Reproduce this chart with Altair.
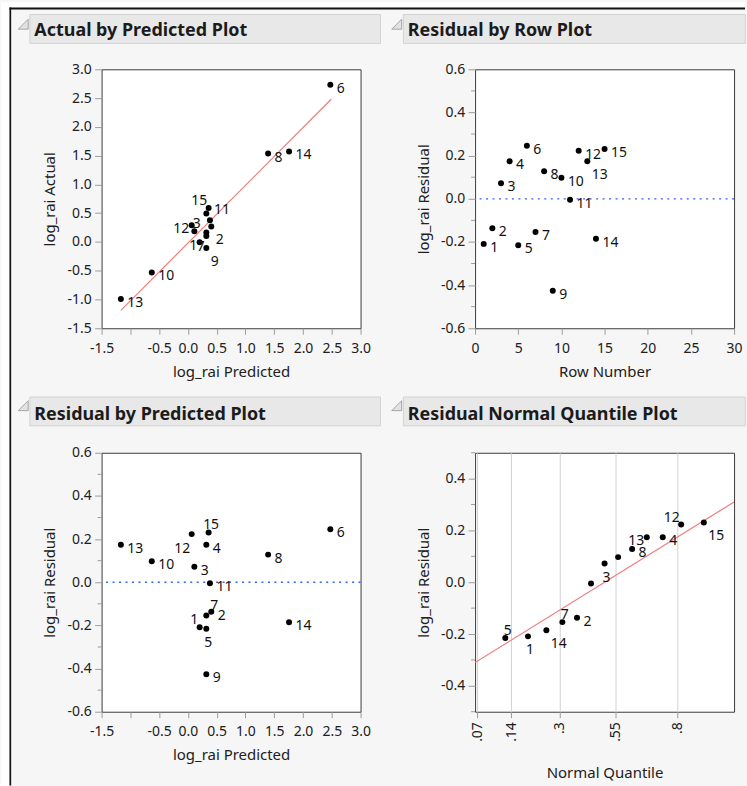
import altair as alt
import pandas as pd

# ---------------- data ----------------
ROW = list(range(1, 16))
PREDICTED = [0.204, 0.406, 0.112, 0.320, 0.320, 2.475, 0.320, 1.394, 0.320, -0.628, 0.383, 0.066, -1.165, 1.758, 0.360]
ACTUAL = [-0.005, 0.269, 0.184, 0.494, 0.105, 2.730, 0.166, 1.535, -0.106, -0.531, 0.378, 0.289, -0.991, 1.573, 0.591]
RESIDUAL = [-0.209, -0.137, 0.072, 0.174, -0.215, 0.246, -0.154, 0.128, -0.426, 0.097, -0.005, 0.223, 0.174, -0.185, 0.231]

QUANTILE_ORDER = [9, 5, 1, 14, 7, 2, 11, 3, 10, 8, 13, 4, 12, 15, 6]
NORMAL_QUANTILE = [-1.534, -1.150, -0.887, -0.674, -0.489, -0.319, -0.157, 0.0,
                   0.157, 0.319, 0.489, 0.674, 0.887, 1.150, 1.534]

FIT_X = [-1.165, 2.49]
FIT_Y = [-1.19, 2.48]
QLINE_X = [-1.5, 1.5]
QLINE_Y = [-0.31, 0.31]

PRED_TICKS = [-1.5, -1.0, -0.5, 0.0, 0.5, 1.0, 1.5, 2.0, 2.5, 3.0]
ACTUAL_TICKS = [-1.5, -1.0, -0.5, 0.0, 0.5, 1.0, 1.5, 2.0, 2.5, 3.0]
ROW_TICKS = [0, 5, 10, 15, 20, 25, 30]
RES_TICKS = [-0.6, -0.4, -0.2, 0.0, 0.2, 0.4, 0.6]
RES_MINOR = [-0.5, -0.3, -0.1, 0.1, 0.3, 0.5]
QRES_TICKS = [-0.4, -0.2, 0.0, 0.2, 0.4]
QRES_MINOR = [-0.5, -0.3, -0.1, 0.1, 0.3, 0.5]
Q_TICK_Z = [-1.476, -1.080, -0.524, 0.126, 0.842]
Q_TICK_LABELS = [".07", ".14", ".3", ".55", ".8"]

TITLES = ["Actual by Predicted Plot", "Residual by Row Plot",
          "Residual by Predicted Plot", "Residual Normal Quantile Plot"]

# label placement codes (styling, per panel)
POS_ACTUAL = {1: "L", 2: "RB", 3: "A", 4: "N", 5: "N", 6: "R", 7: "BL", 8: "R", 9: "RB",
              10: "R", 11: "RA", 12: "L", 13: "R", 14: "R", 15: "AL"}
POS_ROW = {i: "R" for i in ROW}
POS_ROW[13] = "RB"
POS_RESPRED = {1: "AL", 2: "R", 3: "R", 4: "R", 5: "B", 6: "R", 7: "RA", 8: "R", 9: "R",
               10: "R", 11: "R", 12: "BL", 13: "R", 14: "R", 15: "A"}
POS_QUANT = {1: "B", 2: "R", 3: "B", 4: "R", 5: "A", 6: "N", 7: "A", 8: "R", 9: "N",
             10: "N", 11: "N", 12: "AL", 13: "L", 14: "RB", 15: "RB"}

PLACE = {
    "R": ("left", 6.5, 3),
    "RB": ("left", 4.5, 13),
    "RA": ("left", 4, -11),
    "L": ("right", -2.5, 3),
    "AL": ("right", -1.5, -8),
    "BL": ("right", -1.5, 14),
    "A": ("center", 2.5, -8),
    "B": ("center", 2, 13),
}

FONT = "Noto Sans"
W = 260
H = 260
DUMMY = pd.DataFrame({"d": [0]})

NUMFMT = "(datum.value < -0.0001 ? '-' : '') + format(abs(datum.value), '.1f')"


def axis_common(**kw):
    base = dict(domain=False, grid=False, ticks=True, tickColor="#9b9b9b", tickWidth=1,
                labelColor="#202020", labelFont=FONT, labelFontSize=14, labelFlush=False,
                labelOverlap=False, labelBound=False,
                titleFont=FONT, titleFontSize=15, titleFontWeight="normal", titleColor="#202020")
    base.update(kw)
    return alt.Axis(**base)


def xaxis(title, values, expr, title_y=43, **kw):
    opts = dict(title=title, values=values, labelExpr=expr, tickSize=6, labelPadding=7,
                titleX=W / 2, titleY=title_y, titleAlign="center", titleBaseline="middle")
    opts.update(kw)
    return axis_common(**opts)


def yaxis(title, values, expr):
    return axis_common(title=title, values=values, labelExpr=expr, tickSize=7, labelPadding=3.5,
                       titleX=-52, titleY=H / 2, titleAngle=270, titleAlign="center",
                       titleBaseline="middle")


def header(title, bar_x2, bar_y, text_y, tri_y):
    bar = alt.Chart(DUMMY).mark_rect(fill="#e8e8e8", stroke="#d3d3d3", strokeWidth=1).encode(
        x=alt.value(-72), x2=alt.value(bar_x2), y=alt.value(bar_y), y2=alt.value(bar_y + 29))
    tri = alt.Chart(DUMMY).mark_point(shape="M 1 -1 L 1 1 L -1 1 Z", size=100, filled=True,
                                      fill="#e2e2e2", stroke="#a5a5a5", strokeWidth=1,
                                      opacity=1).encode(x=alt.value(-78.7), y=alt.value(tri_y))
    txt = alt.Chart(DUMMY).mark_text(align="left", baseline="alphabetic", font=FONT,
                                     fontSize=18, fontWeight="bold", color="#1b1b1b").encode(
        x=alt.value(-67.5), y=alt.value(text_y), text=alt.value(title))
    return [bar, tri, txt]


def label_layers(df, X, Y, clip=False):
    layers = []
    for code, (al, dx, dy) in PLACE.items():
        sub = df[df["pos"] == code]
        if len(sub) == 0:
            continue
        layers.append(alt.Chart(sub).mark_text(align=al, baseline="alphabetic", dx=dx, dy=dy + 5,
                                               font=FONT, fontSize=14, color="#111111",
                                               clip=clip).encode(x=X, y=Y, text="lab:N"))
    return layers


def minor_ticks(values, Y):
    d = pd.DataFrame({"yv": values})
    return alt.Chart(d).mark_rule(color="#9b9b9b", strokeWidth=1).encode(
        y=Y, x=alt.value(-4), x2=alt.value(0))


def zero_line(Y):
    d = pd.DataFrame({"yv": [0.0]})
    return alt.Chart(d).mark_rule(color="#2f64f5", strokeWidth=1.3, strokeDash=[2, 4.5]).encode(y=Y)


def points(df, X, Y, clip=False):
    return alt.Chart(df).mark_circle(size=36, color="black", opacity=1, clip=clip).encode(x=X, y=Y)


# ---------------- panel 1: actual by predicted ----------------
X1 = alt.X("xv:Q", scale=alt.Scale(domain=[-1.5, 3.0], nice=False, zero=False),
           axis=xaxis("log_rai Predicted", PRED_TICKS, "abs(datum.value + 1) < 0.001 ? '' : " + NUMFMT))
Y1 = alt.Y("yv:Q", scale=alt.Scale(domain=[-1.5, 3.0], nice=False, zero=False),
           axis=yaxis("log_rai Actual", ACTUAL_TICKS, NUMFMT))
df1 = pd.DataFrame({"xv": PREDICTED, "yv": ACTUAL, "lab": [str(r) for r in ROW],
                    "pos": [POS_ACTUAL[r] for r in ROW]})
fit = pd.DataFrame({"xv": FIT_X, "yv": FIT_Y})

frame_layers = [
    alt.Chart(DUMMY).mark_rect(fill="white").encode(
        x=alt.value(-101), x2=alt.value(646), y=alt.value(-67), y2=alt.value(-62)),
    alt.Chart(DUMMY).mark_rect(fill="white").encode(
        x=alt.value(-101), x2=alt.value(-92.5), y=alt.value(-67), y2=alt.value(719)),
    alt.Chart(DUMMY).mark_rect(fill="#111111").encode(
        x=alt.value(-92.5), x2=alt.value(646), y=alt.value(-62), y2=alt.value(-60)),
    alt.Chart(DUMMY).mark_rect(fill="#111111").encode(
        x=alt.value(-92.5), x2=alt.value(-90.8), y=alt.value(-62), y2=alt.value(719)),
]

p1 = alt.layer(
    *frame_layers,
    *header(TITLES[0], 280, -55, -33, -45.3),
    alt.Chart(fit).mark_line(color="#f07a7a", strokeWidth=1.2).encode(x=X1, y=Y1),
    points(df1, X1, Y1),
    *label_layers(df1, X1, Y1),
).properties(width=W, height=H)

# ---------------- panel 2: residual by row ----------------
X2 = alt.X("xv:Q", scale=alt.Scale(domain=[0, 30], nice=False, zero=False),
           axis=xaxis("Row Number", ROW_TICKS, "format(datum.value, 'd')"))
Y2 = alt.Y("yv:Q", scale=alt.Scale(domain=[-0.6, 0.6], nice=False, zero=False),
           axis=yaxis("log_rai Residual", RES_TICKS, NUMFMT))
df2 = pd.DataFrame({"xv": ROW, "yv": RESIDUAL, "lab": [str(r) for r in ROW],
                    "pos": [POS_ROW[r] for r in ROW]})
p2 = alt.layer(
    *header(TITLES[1], 271.3, -55, -33, -45.3),
    minor_ticks(RES_MINOR, Y2),
    zero_line(Y2),
    points(df2, X2, Y2),
    *label_layers(df2, X2, Y2),
).properties(width=W, height=H)

# ---------------- panel 3: residual by predicted ----------------
X3 = alt.X("xv:Q", scale=alt.Scale(domain=[-1.5, 3.0], nice=False, zero=False),
           axis=xaxis("log_rai Predicted", PRED_TICKS, "abs(datum.value + 1) < 0.001 ? '' : " + NUMFMT))
Y3 = alt.Y("yv:Q", scale=alt.Scale(domain=[-0.6, 0.6], nice=False, zero=False),
           axis=yaxis("log_rai Residual", RES_TICKS, NUMFMT))
df3 = pd.DataFrame({"xv": PREDICTED, "yv": RESIDUAL, "lab": [str(r) for r in ROW],
                    "pos": [POS_RESPRED[r] for r in ROW]})
p3 = alt.layer(
    *header(TITLES[2], 280, -56, -32.7, -47.3),
    minor_ticks(RES_MINOR, Y3),
    zero_line(Y3),
    points(df3, X3, Y3),
    *label_layers(df3, X3, Y3),
).properties(width=W, height=H)

# ---------------- panel 4: residual normal quantile ----------------
qexpr = "".join("abs(datum.value - (%g)) < 0.001 ? '%s' : " % (z, l)
                for z, l in zip(Q_TICK_Z, Q_TICK_LABELS)) + "''"
X4 = alt.X("xv:Q", scale=alt.Scale(domain=[-1.5, 1.5], nice=False, zero=False),
           axis=xaxis("Normal Quantile", Q_TICK_Z, qexpr, title_y=61, labelAngle=270,
                      labelPadding=4, grid=True, gridColor="#d2d2d2", gridWidth=1))
Y4 = alt.Y("yv:Q", scale=alt.Scale(domain=[-0.5, 0.5], nice=False, zero=False),
           axis=yaxis("log_rai Residual", QRES_TICKS, NUMFMT))
res_by_row = dict(zip(ROW, RESIDUAL))
df4 = pd.DataFrame({"xv": NORMAL_QUANTILE, "yv": [res_by_row[r] for r in QUANTILE_ORDER],
                    "lab": [str(r) for r in QUANTILE_ORDER],
                    "pos": [POS_QUANT[r] for r in QUANTILE_ORDER]})
qline = pd.DataFrame({"xv": QLINE_X, "yv": QLINE_Y})
p4 = alt.layer(
    *header(TITLES[3], 271.3, -56, -32.7, -47.3),
    minor_ticks(QRES_MINOR, Y4),
    alt.Chart(qline).mark_line(color="#f07a7a", strokeWidth=1.2, clip=True).encode(x=X4, y=Y4),
    points(df4, X4, Y4, clip=True),
    *label_layers(df4, X4, Y4, clip=True),
).properties(width=W, height=H)

chart = alt.concat(p1, p2, p3, p4, columns=2, spacing={"row": 125, "column": 115},
                   bounds="flush").properties(
    padding={"left": 0, "top": 0, "right": 0, "bottom": 0}
).configure(background="#f6f6f6", font=FONT).configure_view(
    stroke="#3a3a3a", strokeWidth=1, fill="white")

chart.save("out.html", embed_options={"renderer": "svg", "actions": False})
